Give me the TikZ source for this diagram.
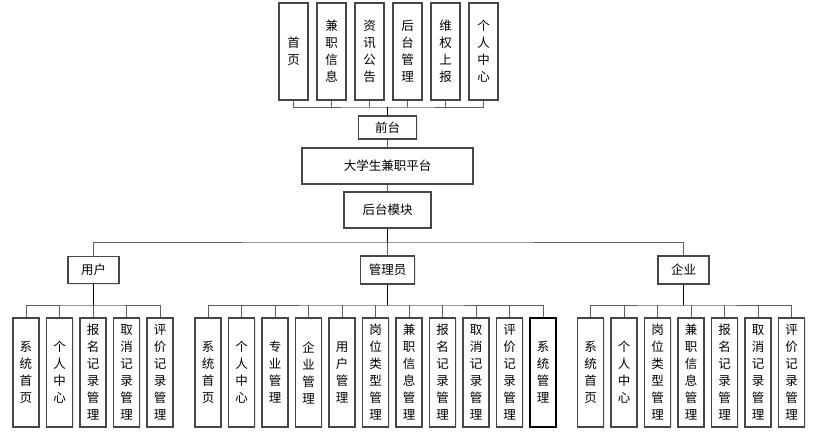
\documentclass[tikz,border=0pt]{standalone}
\usepackage{fontspec}
\newfontfamily\cjk{Noto Sans CJK SC}
\usepackage{xcolor}
\definecolor{BoxGray}{RGB}{70,70,70}
\definecolor{LineGray}{RGB}{95,95,95}
\usetikzlibrary{positioning,shadows}

\begin{document}
\begin{tikzpicture}[
  x=1pt, y=-1pt,
  font=\cjk\fontsize{12.5}{17}\selectfont,
  box/.style={rectangle, draw=BoxGray, line width=1.1pt, fill=white,
              inner sep=0pt, align=center,
              drop shadow={shadow xshift=1pt, shadow yshift=-1pt, opacity=0.2}},
  topbox/.style={box, minimum width=29pt, minimum height=97pt},
  leaf/.style={box, minimum width=26pt, minimum height=109pt},
  link/.style={draw=LineGray, line width=1pt},
  trunk/.style={draw=black, line width=1.6pt}
]
  \useasboundingbox (0,0) rectangle (826,437);

  % front pages
  \node[topbox] (f1) at (293.5,51.5) {首\\页};
  \node[topbox, right=7.9pt of f1] (f2) {兼\\职\\信\\息};
  \node[topbox, right=7.9pt of f2] (f3) {资\\讯\\公\\告};
  \node[topbox, right=7.9pt of f3] (f4) {后\\台\\管\\理};
  \node[topbox, right=7.9pt of f4] (f5) {维\\权\\上\\报};
  \node[topbox, right=7.9pt of f5] (f6) {个\\人\\中\\心};

  \node[box, minimum width=58pt, minimum height=23pt] (front) at (387.5,127.5) {前台};
  \node[box, minimum width=171pt, minimum height=36pt] (platform) at (387.5,166) {大学生兼职平台};
  \node[box, minimum width=87pt, minimum height=36pt] (back) at (387.5,210) {后台模块};

  % roles
  \node[box, minimum width=51pt, minimum height=27pt] (user) at (93.5,270) {用户};
  \node[box, minimum width=54pt, minimum height=28pt] (admin) at (387.5,270) {管理员};
  \node[box, minimum width=51pt, minimum height=28pt] (firm) at (683.5,270) {企业};

  % user modules
  \node[leaf] (u1) at (26,372.5) {系\\统\\首\\页};
  \node[leaf, right=6.4pt of u1] (u2) {个\\人\\中\\心};
  \node[leaf, right=6.4pt of u2] (u3) {报\\名\\记\\录\\管\\理};
  \node[leaf, right=6.4pt of u3] (u4) {取\\消\\记\\录\\管\\理};
  \node[leaf, right=6.4pt of u4] (u5) {评\\价\\记\\录\\管\\理};

  % admin modules
  \node[leaf] (a1) at (208,372.5) {系\\统\\首\\页};
  \node[leaf, right=6.4pt of a1] (a2) {个\\人\\中\\心};
  \node[leaf, right=6.4pt of a2] (a3) {专\\业\\管\\理};
  \node[leaf, right=6.4pt of a3] (a4) {企\\业\\管\\理};
  \node[leaf, right=6.4pt of a4] (a5) {用\\户\\管\\理};
  \node[leaf, right=6.4pt of a5] (a6) {岗\\位\\类\\型\\管\\理};
  \node[leaf, right=6.4pt of a6] (a7) {兼\\职\\信\\息\\管\\理};
  \node[leaf, right=6.4pt of a7] (a8) {报\\名\\记\\录\\管\\理};
  \node[leaf, right=6.4pt of a8] (a9) {取\\消\\记\\录\\管\\理};
  \node[leaf, right=6.4pt of a9] (a10) {评\\价\\记\\录\\管\\理};
  \node[leaf, right=6.4pt of a10, draw=black] (a11) {系\\统\\管\\理};

  % firm modules
  \node[leaf] (c1) at (590.5,372.5) {系\\统\\首\\页};
  \node[leaf, right=6.4pt of c1] (c2) {个\\人\\中\\心};
  \node[leaf, right=6.4pt of c2] (c3) {岗\\位\\类\\型\\管\\理};
  \node[leaf, right=6.4pt of c3] (c4) {兼\\职\\信\\息\\管\\理};
  \node[leaf, right=6.4pt of c4] (c5) {报\\名\\记\\录\\管\\理};
  \node[leaf, right=6.4pt of c5] (c6) {取\\消\\记\\录\\管\\理};
  \node[leaf, right=6.4pt of c6] (c7) {评\\价\\记\\录\\管\\理};

  % bus points
  \coordinate (topbus) at (387.5,107);
  \coordinate (midbus) at (387.5,242);
  \coordinate (ubus) at (93.5,305);
  \coordinate (abus) at (387.5,305);
  \coordinate (cbus) at (683.5,305);

  % connectors
  \draw[link] (f1.south) |- (topbus) -| (f6.south);
  \draw[link] (f2.south) -- (f2.south |- topbus); \draw[link] (f3.south) -- (f3.south |- topbus);
  \draw[link] (f4.south) -- (f4.south |- topbus); \draw[link] (f5.south) -- (f5.south |- topbus);
  \draw[trunk] (topbus) -- (front);
  \draw[link] (front) -- (platform); \draw[link] (platform) -- (back);
  \draw[trunk] (back) -- (midbus);
  \draw[link] (user.north) |- (midbus) -| (firm.north);
  \draw[link] (midbus) -- (admin);

  \draw[trunk] (user) -- (ubus);
  \draw[link] (u1.north) |- (ubus) -| (u5.north);
  \draw[link] (u2.north) -- (u2.north |- ubus); \draw[link] (u3.north) -- (u3.north |- ubus);
  \draw[link] (u4.north) -- (u4.north |- ubus);

  \draw[trunk] (admin) -- (abus);
  \draw[link] (a1.north) |- (abus) -| (a11.north);
  \draw[link] (a2.north) -- (a2.north |- abus); \draw[link] (a3.north) -- (a3.north |- abus);
  \draw[link] (a4.north) -- (a4.north |- abus); \draw[link] (a5.north) -- (a5.north |- abus);
  \draw[link] (a6.north) -- (a6.north |- abus); \draw[link] (a7.north) -- (a7.north |- abus);
  \draw[link] (a8.north) -- (a8.north |- abus); \draw[link] (a9.north) -- (a9.north |- abus);
  \draw[link] (a10.north) -- (a10.north |- abus);

  \draw[trunk] (firm) -- (cbus);
  \draw[link] (c1.north) |- (cbus) -| (c7.north);
  \draw[link] (c2.north) -- (c2.north |- cbus); \draw[link] (c3.north) -- (c3.north |- cbus);
  \draw[link] (c4.north) -- (c4.north |- cbus); \draw[link] (c5.north) -- (c5.north |- cbus);
  \draw[link] (c6.north) -- (c6.north |- cbus);
\end{tikzpicture}
\end{document}
